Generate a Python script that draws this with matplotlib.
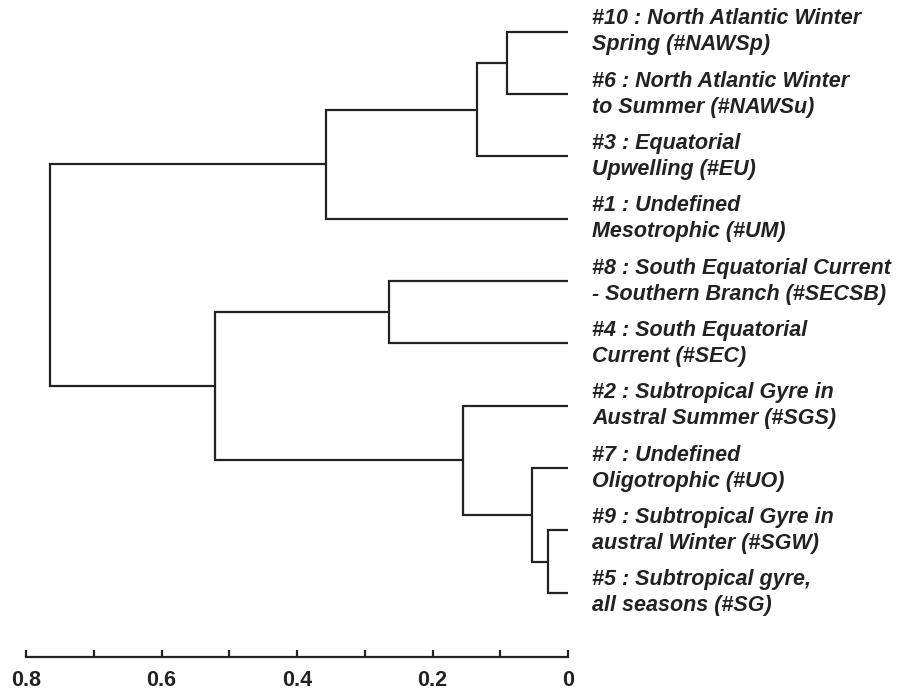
import matplotlib.pyplot as plt
from matplotlib.ticker import MultipleLocator

# leaves, top to bottom
leaf_labels = [
    "#10 : North Atlantic Winter\nSpring (#NAWSp)",
    "#6 : North Atlantic Winter\nto Summer (#NAWSu)",
    "#3 : Equatorial\nUpwelling (#EU)",
    "#1 : Undefined\nMesotrophic (#UM)",
    "#8 : South Equatorial Current\n- Southern Branch (#SECSB)",
    "#4 : South Equatorial\nCurrent (#SEC)",
    "#2 : Subtropical Gyre in\nAustral Summer (#SGS)",
    "#7 : Undefined\nOligotrophic (#UO)",
    "#9 : Subtropical Gyre in\naustral Winter (#SGW)",
    "#5 : Subtropical gyre,\nall seasons (#SG)",
]

# merges: (cluster a, cluster b, height); new clusters numbered from 10
merge_a = [0, 10, 11, 4, 8, 7, 6, 13, 12]
merge_b = [1, 2, 3, 5, 9, 14, 15, 16, 17]
merge_h = [0.090, 0.134, 0.357, 0.264, 0.030, 0.053, 0.155, 0.521, 0.765]

tick_major = [0.8, 0.6, 0.4, 0.2, 0]
tick_text = ["0.8", "0.6", "0.4", "0.2", "0"]

line_col = "#222222"
plt.rcParams["font.family"] = ["Liberation Sans", "DejaVu Sans"]

fig = plt.figure(figsize=(8.99, 6.9), dpi=100)
ax = fig.add_axes([26 / 899, 33 / 690, 542 / 899, 657 / 690])

# node positions: x = height, y = leaf index
pos = {i: (0.0, float(i)) for i in range(len(leaf_labels))}
for k, (a, b, h) in enumerate(zip(merge_a, merge_b, merge_h)):
    xa, ya = pos[a]
    xb, yb = pos[b]
    ax.plot([xa, h, h, xb], [ya, ya, yb, yb], color=line_col, lw=1.6,
            solid_joinstyle="miter", solid_capstyle="butt")
    pos[len(leaf_labels) + k] = (h, (ya + yb) / 2)

for i, lab in enumerate(leaf_labels):
    ax.text(-0.036, i, lab, ha="left", va="center", fontsize=15.5,
            fontweight="bold", fontstyle="italic", color=line_col,
            linespacing=1.3, clip_on=False)

ax.set_xlim(0.8, 0)
ax.set_ylim(10.03, -0.51)

for s in ["top", "left", "right"]:
    ax.spines[s].set_visible(False)
ax.spines["bottom"].set_linewidth(1.6)
ax.spines["bottom"].set_color(line_col)

ax.set_yticks([])
ax.set_xticks(tick_major)
ax.set_xticklabels(tick_text, fontsize=15.5, fontweight="bold", color=line_col)
ax.xaxis.set_minor_locator(MultipleLocator(0.1))
ax.tick_params(axis="x", which="both", direction="in", length=5, width=1.6,
               color=line_col, pad=9)

fig.savefig("out.png", dpi=100)
